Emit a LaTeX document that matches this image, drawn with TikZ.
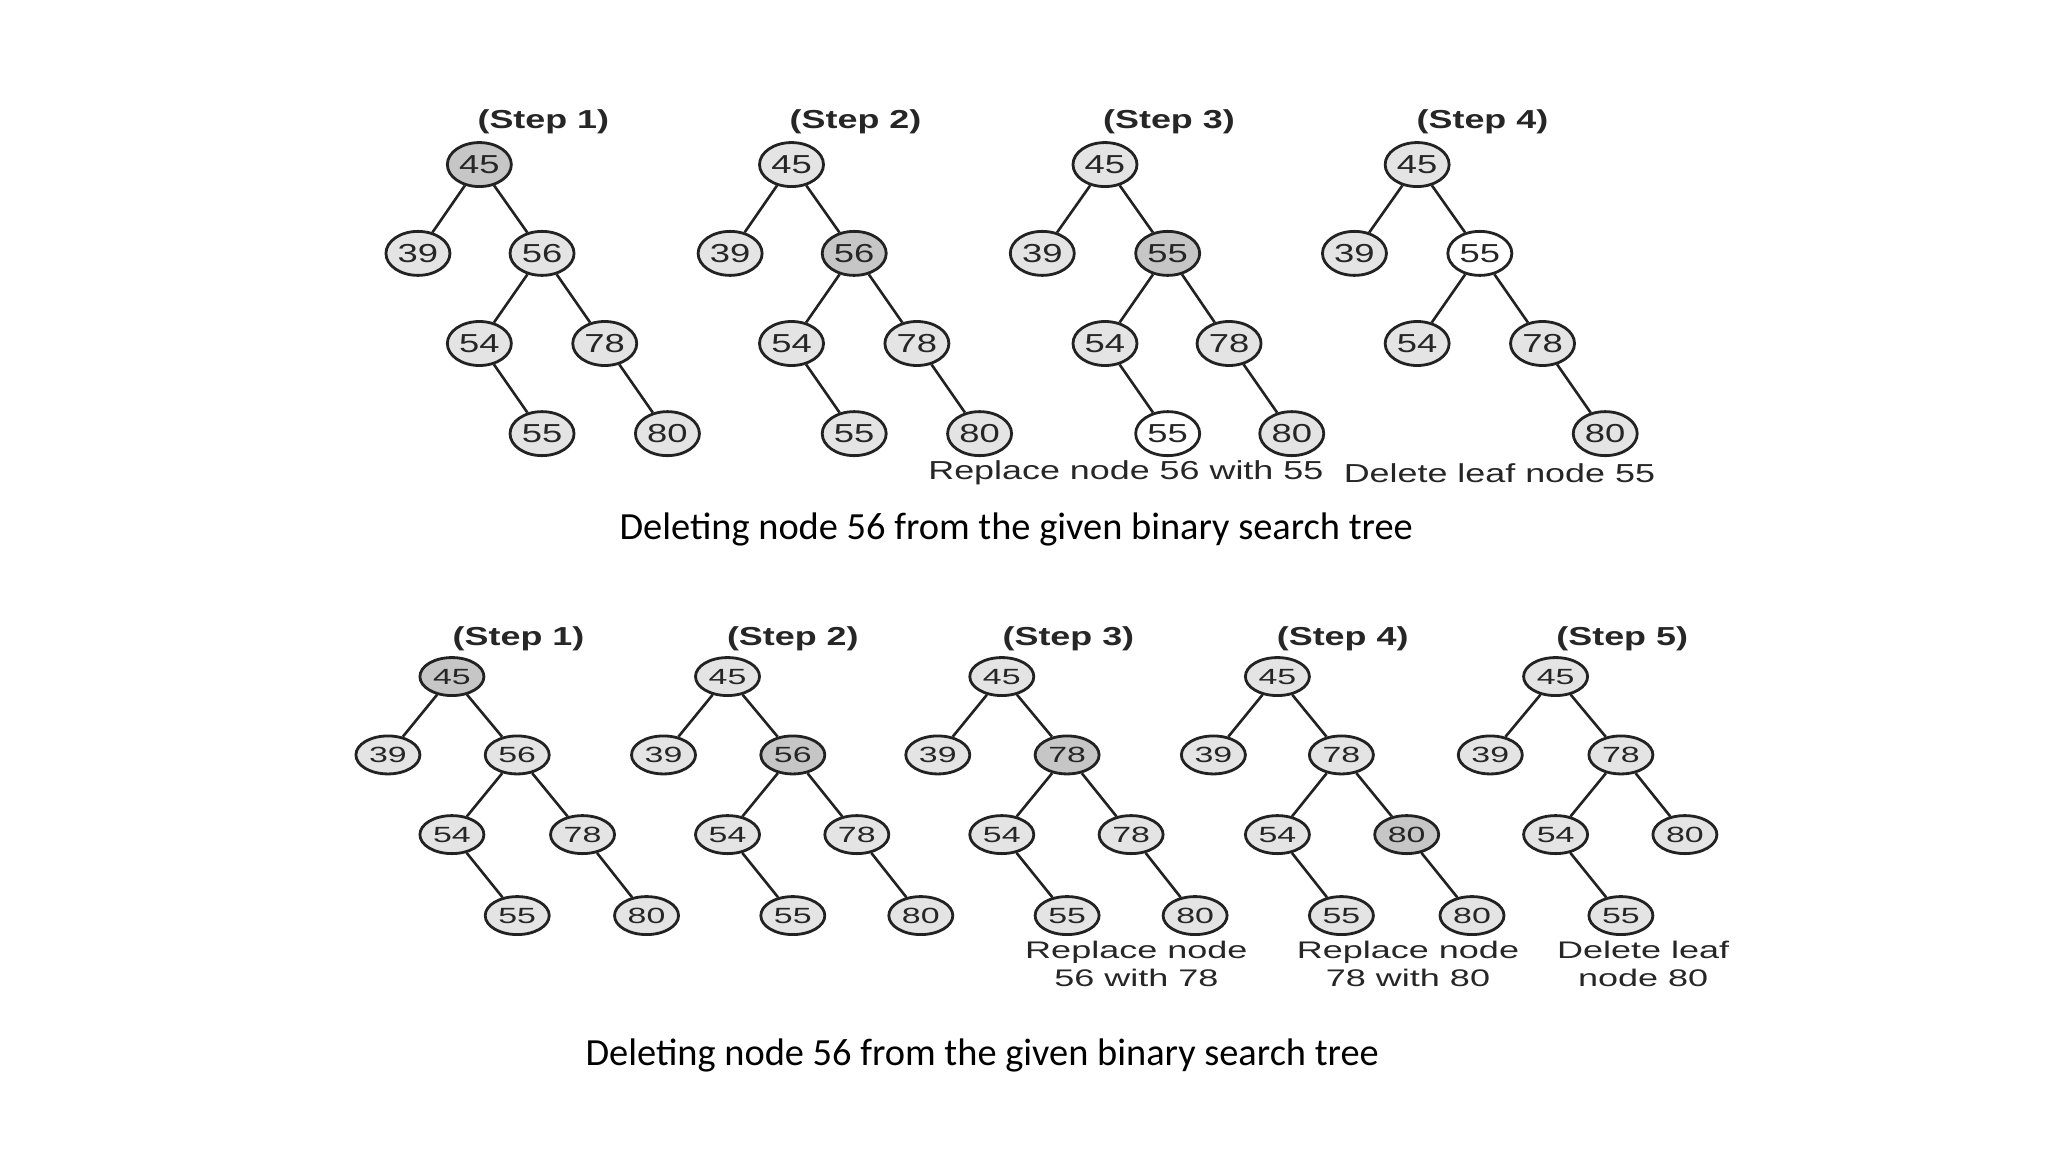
\documentclass[tikz,border=0pt]{standalone}
\usepackage{fontspec}
\setmainfont{Carlito}
\newfontfamily\stepfont[FakeStretch=1.38]{Liberation Sans}
\newfontfamily\topdig[FakeStretch=1.4]{Liberation Sans}
\newfontfamily\botdig[FakeStretch=1.54]{Liberation Sans}
\newfontfamily\topcap[FakeStretch=1.38]{Liberation Sans}
\newfontfamily\botcap[FakeStretch=1.5]{Liberation Sans}
\usetikzlibrary{shapes.geometric}
\definecolor{lg}{HTML}{E4E4E4}
\definecolor{dg}{HTML}{C6C6C6}
\definecolor{ln}{HTML}{222222}
\tikzset{
  tn/.style={ellipse,draw=ln,line width=1.4pt,fill=lg,minimum width=32pt,minimum height=22pt,inner sep=0pt,font=\topdig\fontsize{13}{13}\selectfont,text=black!85},
  bn/.style={ellipse,draw=ln,line width=1.4pt,fill=lg,minimum width=32pt,minimum height=19pt,inner sep=0pt,font=\botdig\fontsize{11}{11}\selectfont,text=black!85},
  hi/.style={fill=dg},
  wh/.style={fill=white},
  stl/.style={font=\stepfont\bfseries\fontsize{13}{14}\selectfont,text=black!85},
  tcap/.style={font=\topcap\fontsize{13}{14}\selectfont,text=black!85},
  bcap/.style={font=\botcap\fontsize{12}{13.7}\selectfont,align=center,text=black!85},
  mcap/.style={font=\fontsize{19.2}{21}\selectfont},
  ed/.style={draw=ln,line width=1.3pt}
}
\begin{document}
\begin{tikzpicture}[x=0.653pt,y=-0.653pt]
\useasboundingbox[fill=white] (0,0) rectangle (1568,882);
% ---------------- top row ----------------
% step 1
\node[stl] (ts1) at (416,93) {(Step 1)};
\node[tn,hi] (a1) at (367,126) {45};
\node[tn] (a2) at (320,194) {39};
\node[tn] (a3) at (415,194) {56};
\node[tn] (a4) at (367,263) {54};
\node[tn] (a5) at (463,263) {78};
\node[tn] (a6) at (415,332) {55};
\node[tn] (a7) at (511,332) {80};
\draw[ed] (a1)--(a2) (a1)--(a3) (a3)--(a4) (a3)--(a5) (a4)--(a6) (a5)--(a7);
% step 2
\node[stl] (ts2) at (655,93) {(Step 2)};
\node[tn] (b1) at (606,126) {45};
\node[tn] (b2) at (559,194) {39};
\node[tn,hi] (b3) at (654,194) {56};
\node[tn] (b4) at (606,263) {54};
\node[tn] (b5) at (702,263) {78};
\node[tn] (b6) at (654,332) {55};
\node[tn] (b7) at (750,332) {80};
\draw[ed] (b1)--(b2) (b1)--(b3) (b3)--(b4) (b3)--(b5) (b4)--(b6) (b5)--(b7);
% step 3
\node[stl] (ts3) at (895,93) {(Step 3)};
\node[tn] (c1) at (846,126) {45};
\node[tn] (c2) at (798,194) {39};
\node[tn,hi] (c3) at (894,194) {55};
\node[tn] (c4) at (846,263) {54};
\node[tn] (c5) at (941,263) {78};
\node[tn,wh] (c6) at (894,332) {55};
\node[tn] (c7) at (989,332) {80};
\draw[ed] (c1)--(c2) (c1)--(c3) (c3)--(c4) (c3)--(c5) (c4)--(c6) (c5)--(c7);
\node[tcap] (cc) at (862,362) {Replace node 56 with 55};
% step 4
\node[stl] (ts4) at (1135,93) {(Step 4)};
\node[tn] (d1) at (1085,126) {45};
\node[tn] (d2) at (1037,194) {39};
\node[tn,wh] (d3) at (1133,194) {55};
\node[tn] (d4) at (1085,263) {54};
\node[tn] (d5) at (1181,263) {78};
\node[tn] (d7) at (1229,332) {80};
\draw[ed] (d1)--(d2) (d1)--(d3) (d3)--(d4) (d3)--(d5) (d5)--(d7);
\node[tcap] (dc) at (1148,362) {Delete leaf node 55};
\node[mcap] (m1) at (778,405) {Deleting node 56 from the given binary search tree};
% ---------------- bottom row ----------------
% step 1
\node[stl] (us1) at (397,489) {(Step 1)};
\node[bn,hi] (e1) at (346,518) {45};
\node[bn] (e2) at (297,578) {39};
\node[bn] (e3) at (396,578) {56};
\node[bn] (e4) at (346,639) {54};
\node[bn] (e5) at (446,639) {78};
\node[bn] (e6) at (396,701) {55};
\node[bn] (e7) at (495,701) {80};
\draw[ed] (e1)--(e2) (e1)--(e3) (e3)--(e4) (e3)--(e5) (e4)--(e6) (e5)--(e7);
% step 2
\node[stl] (us2) at (607,489) {(Step 2)};
\node[bn] (f1) at (557,518) {45};
\node[bn] (f2) at (508,578) {39};
\node[bn,hi] (f3) at (607,578) {56};
\node[bn] (f4) at (557,639) {54};
\node[bn] (f5) at (656,639) {78};
\node[bn] (f6) at (607,701) {55};
\node[bn] (f7) at (705,701) {80};
\draw[ed] (f1)--(f2) (f1)--(f3) (f3)--(f4) (f3)--(f5) (f4)--(f6) (f5)--(f7);
% step 3
\node[stl] (us3) at (818,489) {(Step 3)};
\node[bn] (g1) at (767,518) {45};
\node[bn] (g2) at (718,578) {39};
\node[bn,hi] (g3) at (817,578) {78};
\node[bn] (g4) at (767,639) {54};
\node[bn] (g5) at (866,639) {78};
\node[bn] (g6) at (817,701) {55};
\node[bn] (g7) at (915,701) {80};
\draw[ed] (g1)--(g2) (g1)--(g3) (g3)--(g4) (g3)--(g5) (g4)--(g6) (g5)--(g7);
\node[bcap] (gc) at (870,738) {Replace node\\56 with 78};
% step 4
\node[stl] (us4) at (1028,489) {(Step 4)};
\node[bn] (h1) at (978,518) {45};
\node[bn] (h2) at (929,578) {39};
\node[bn] (h3) at (1027,578) {78};
\node[bn] (h4) at (978,639) {54};
\node[bn,hi] (h5) at (1077,639) {80};
\node[bn] (h6) at (1027,701) {55};
\node[bn] (h7) at (1127,701) {80};
\draw[ed] (h1)--(h2) (h1)--(h3) (h3)--(h4) (h3)--(h5) (h4)--(h6) (h5)--(h7);
\node[bcap] (hc) at (1078,738) {Replace node\\78 with 80};
% step 5
\node[stl] (us5) at (1242,489) {(Step 5)};
\node[bn] (k1) at (1191,518) {45};
\node[bn] (k2) at (1141,578) {39};
\node[bn] (k3) at (1241,578) {78};
\node[bn] (k4) at (1191,639) {54};
\node[bn] (k5) at (1290,639) {80};
\node[bn] (k6) at (1241,701) {55};
\draw[ed] (k1)--(k2) (k1)--(k3) (k3)--(k4) (k3)--(k5) (k4)--(k6);
\node[bcap] (kc) at (1258,738) {Delete leaf\\node 80};
\node[mcap] (m2) at (752,808) {Deleting node 56 from the given binary search tree};
\end{tikzpicture}
\end{document}
